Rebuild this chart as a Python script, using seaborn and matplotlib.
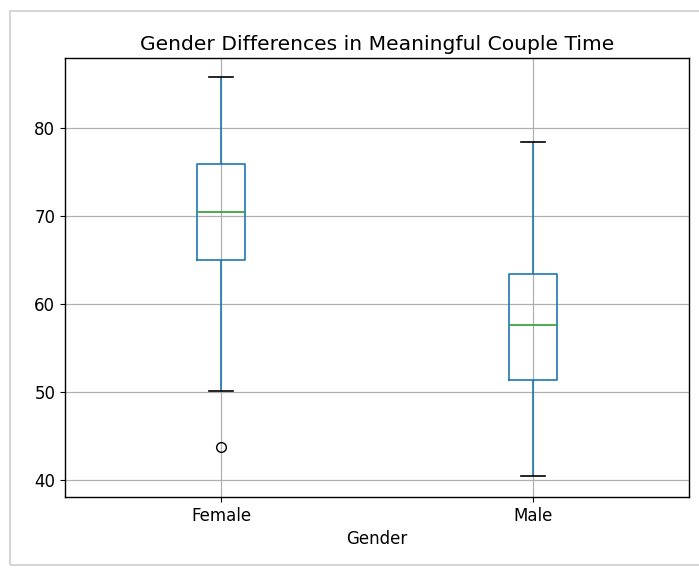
import numpy as np
import pandas as pd
import matplotlib
matplotlib.use("Agg")
import matplotlib.pyplot as plt
import seaborn as sns
from matplotlib.patches import Rectangle

# Observations per gender, chosen so that the quartiles / whiskers /
# outlier match the box plot in the reference picture
genders = ["Female", "Male"]
female_time = [43.75, 50.1, 65.0, 65.0, 70.45, 75.9, 75.9, 85.8, 85.8]
male_time = [40.45, 51.4, 57.6, 63.4, 78.5]

df = pd.DataFrame({
    "Gender": ["Female"] * len(female_time) + ["Male"] * len(male_time),
    "Time": female_time + male_time,
})

fig = plt.figure(figsize=(6.99, 5.68), dpi=100)
ax = fig.add_axes([0.093, 0.125, 0.893, 0.773])

sns.boxplot(data=df, x="Gender", y="Time", order=genders, ax=ax,
            color="#1f77b4", saturation=1, fill=False, width=0.155,
            linewidth=1.2, whis=1.5,
            boxprops={"color": "#1f77b4"},
            whiskerprops={"color": "#1f77b4"},
            medianprops={"color": "#2ca02c"},
            capprops={"color": "black"},
            flierprops={"marker": "o", "markerfacecolor": "none",
                        "markeredgecolor": "black", "markersize": 7})

ax.set_ylim(38.1, 88.0)
ax.set_yticks([40, 50, 60, 70, 80])
ax.grid(True, color="#b0b0b0", linewidth=0.9)
ax.set_axisbelow(True)
ax.tick_params(labelsize=12)
ax.set_xlabel("Gender", fontsize=12)
ax.set_ylabel("")
ax.set_title("Gender Differences in Meaningful Couple Time", fontsize=14.6)
for s in ax.spines.values():
    s.set_color("black")
    s.set_linewidth(1.0)

# screenshot frame around the figure
fig.patches.append(Rectangle((10 / 699, 3 / 568), 1.0, 1 - 14 / 568,
                             transform=fig.transFigure, fill=False,
                             edgecolor="#d6d6d6", linewidth=1.5))

fig.savefig("out.png", dpi=100)
